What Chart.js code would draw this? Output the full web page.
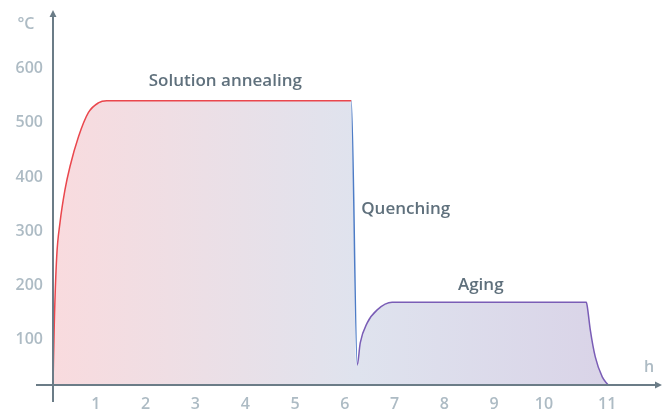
<!DOCTYPE html>
<html>
<head>
<meta charset="utf-8">
<script src="https://cdn.jsdelivr.net/npm/chart.js@4.4.1/dist/chart.umd.min.js"></script>
<style>
  html, body { margin: 0; padding: 0; background: #fff; }
  #wrap { width: 671px; height: 412px; }
</style>
</head>
<body>
<div id="wrap"><canvas id="chart"></canvas></div>
<script>
// hours / degrees C
const heatHours = [0.14, 0.166, 0.214, 0.28, 0.38, 0.48, 0.65, 0.85, 1.05, 1.22, 6.13];
const heatTemps = [15, 130, 252, 315, 376, 419, 474, 519, 537, 541, 541];
const quenchHours = [6.25];
const quenchTemps = [52];
const agingHours = [6.31, 6.45, 6.65, 6.95, 10.85, 10.87, 10.93, 11.03, 11.17, 11.29];
const agingTemps = [93, 130, 154, 168, 168, 160, 117, 67, 30, 15];

const yTicks = [100, 200, 300, 400, 500, 600];
const xTickPos = [1, 2, 3, 4, 5, 6, 7, 8, 9, 10, 11.27];
const xTickLabels = ['1', '2', '3', '4', '5', '6', '7', '8', '9', '10', '11'];

const phaseLabels = [
  { text: 'Solution annealing', h: 3.6, t: 578, align: 'center' },
  { text: 'Quenching', h: 6.33, t: 340, align: 'left' },
  { text: 'Aging', h: 8.73, t: 200, align: 'center' }
];

const AXIS = '#6b7c87';
const TICK = '#adbbc4';
const TEXT = '#5f707c';
const FONT = '"Open Sans"';

const allHours = heatHours.concat(quenchHours, agingHours);
const allTemps = heatTemps.concat(quenchTemps, agingTemps);
const quenchStart = heatHours.length - 1; // segment index of the drop
const points = allHours.map((x, i) => ({ x, y: allTemps[i] }));

function segColor(ctx) {
  const i = ctx.p0DataIndex;
  if (i < quenchStart) return '#ea474d';
  if (i === quenchStart) return '#4d7cc6';
  return '#7a5db6';
}

function fillGradient(ctx) {
  const area = ctx.chart.chartArea;
  if (!area) return 'rgba(0,0,0,0)';
  const g = ctx.chart.ctx.createLinearGradient(area.left, 0, area.right, 0);
  g.addColorStop(0, '#f9dbde');
  g.addColorStop(0.5, '#dfe3ee');
  g.addColorStop(1, '#d8d0e6');
  return g;
}

// axes with arrows + free text labels
const decor = {
  id: 'decor',
  afterDraw(chart) {
    const { ctx, chartArea, scales } = chart;
    const x0 = scales.x.getPixelForValue(scales.x.min);
    const y0 = scales.y.getPixelForValue(scales.y.min);
    ctx.save();
    ctx.strokeStyle = AXIS;
    ctx.fillStyle = AXIS;
    ctx.lineWidth = 2;
    ctx.beginPath();
    ctx.moveTo(x0 - 17, y0);
    ctx.lineTo(chartArea.right - 4, y0);
    ctx.moveTo(x0, y0 + 17);
    ctx.lineTo(x0, chartArea.top + 4);
    ctx.stroke();
    ctx.beginPath();
    ctx.moveTo(chartArea.right, y0);
    ctx.lineTo(chartArea.right - 7, y0 - 3.5);
    ctx.lineTo(chartArea.right - 7, y0 + 3.5);
    ctx.closePath();
    ctx.moveTo(x0, chartArea.top);
    ctx.lineTo(x0 - 3.5, chartArea.top + 7);
    ctx.lineTo(x0 + 3.5, chartArea.top + 7);
    ctx.closePath();
    ctx.fill();

    ctx.fillStyle = TEXT;
    ctx.font = '600 17px ' + FONT;
    ctx.textBaseline = 'middle';
    phaseLabels.forEach(l => {
      ctx.textAlign = l.align;
      ctx.fillText(l.text, scales.x.getPixelForValue(l.h), scales.y.getPixelForValue(l.t));
    });

    ctx.fillStyle = TICK;
    ctx.font = '600 16px ' + FONT;
    ctx.textAlign = 'center';
    ctx.fillText('°C', 26, 24);
    ctx.fillText('h', 649, 367);
    ctx.restore();
  }
};

new Chart(document.getElementById('chart'), {
  type: 'line',
  data: {
    datasets: [
      {
        // coloured outline, one colour per phase
        data: points,
        borderWidth: 1.5,
        borderColor: '#ea474d',
        segment: { borderColor: segColor },
        fill: false,
        pointRadius: 0,
        cubicInterpolationMode: 'monotone'
      },
      {
        // gradient area under the whole curve (no segment styles -> no seams)
        data: points,
        borderWidth: 0,
        borderColor: 'rgba(0,0,0,0)',
        backgroundColor: fillGradient,
        fill: 'start',
        pointRadius: 0,
        cubicInterpolationMode: 'monotone'
      }
    ]
  },
  options: {
    responsive: true,
    maintainAspectRatio: false,
    animation: false,
    layout: { padding: { top: 10, right: 9, left: 0, bottom: 0 } },
    plugins: { legend: { display: false }, tooltip: { enabled: false } },
    scales: {
      x: {
        type: 'linear',
        min: 0.14,
        max: 12.37,
        grid: { display: false, drawTicks: false },
        border: { display: false },
        afterFit(s) { s.height = 27; s.paddingLeft = 0; s.paddingRight = 0; },
        afterBuildTicks(s) { s.ticks = xTickPos.map(v => ({ value: v })); },
        ticks: {
          color: TICK,
          padding: 10,
          font: { family: FONT, size: 16, weight: '600' },
          callback: (v, i) => xTickLabels[i]
        }
      },
      y: {
        min: 15,
        max: 709,
        grid: { display: false, drawTicks: false },
        border: { display: false },
        afterFit(s) { s.width = 53; s.paddingTop = 0; s.paddingBottom = 0; },
        afterBuildTicks(s) { s.ticks = yTicks.map(v => ({ value: v })); },
        ticks: {
          color: TICK,
          padding: 10,
          font: { family: FONT, size: 16, weight: '600' }
        }
      }
    }
  },
  plugins: [decor]
});
</script>
</body>
</html>
